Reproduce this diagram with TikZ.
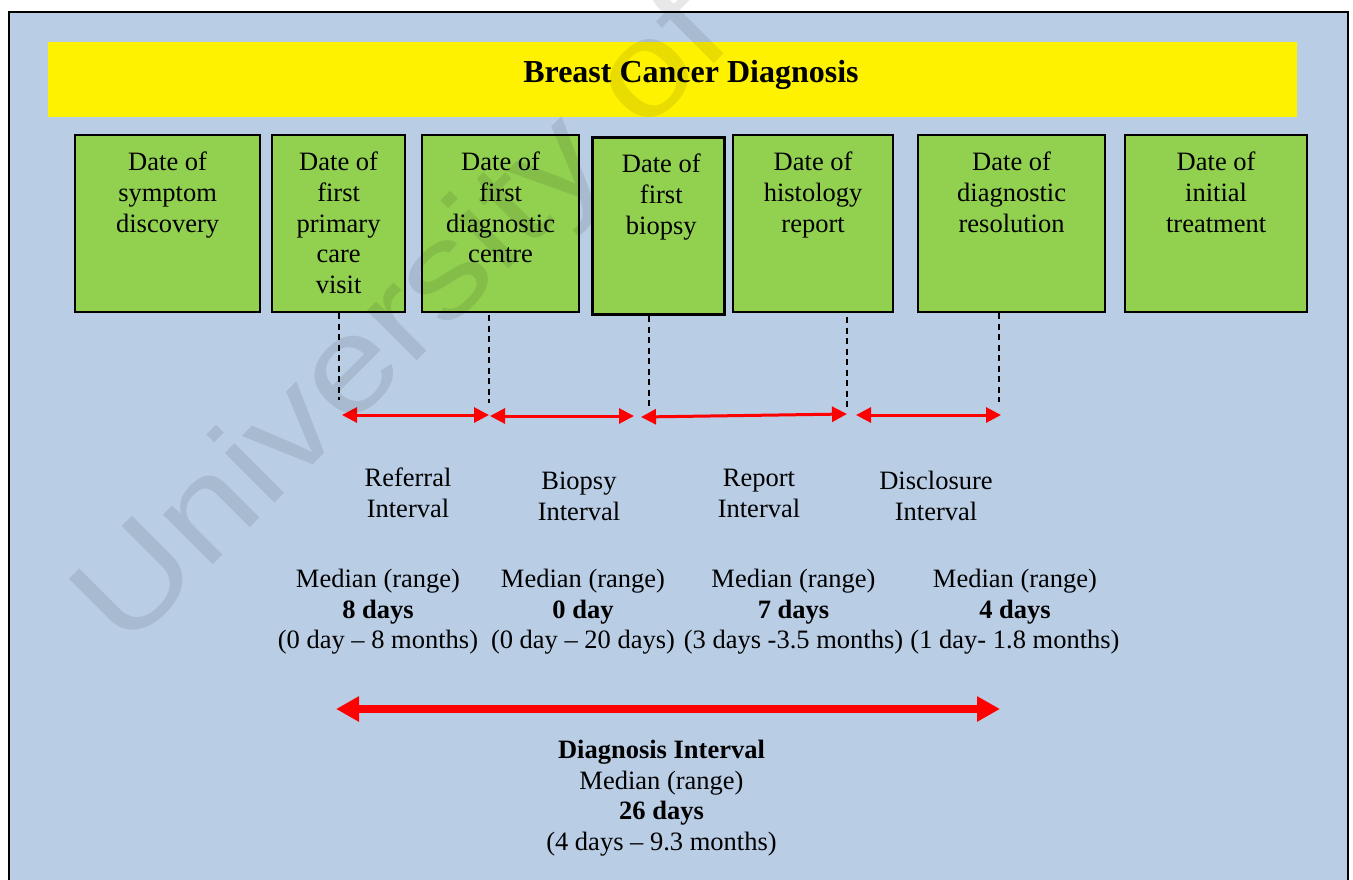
\documentclass[tikz,border=0pt]{standalone}
\usepackage{fontspec}
\setmainfont{Liberation Serif}
\newfontfamily\wmfont{Liberation Sans}
\usetikzlibrary{arrows.meta,calc}
\definecolor{panelblue}{HTML}{B9CDE5}
\definecolor{datagreen}{HTML}{92D050}
\begin{document}
\begin{tikzpicture}[x=1pt,y=-1pt,
  txt/.style={font=\fontsize{26.5}{30.7}\selectfont, align=center, inner sep=0pt, anchor=north},
  datebox/.style={draw=black, line width=2.2pt, fill=datagreen, anchor=north west, inner sep=0pt, minimum height=177pt},
  guide/.style={black, line width=1.6pt, dash pattern=on 6pt off 4.5pt},
  gap/.style={red, line width=3pt, arrows={Triangle[length=15pt,width=15pt]-Triangle[length=15pt,width=15pt]}},
  span/.style={red, line width=7.5pt, arrows={Triangle[length=23pt,width=24pt]-Triangle[length=23pt,width=24pt]}}
]
\clip (0,0) rectangle (1353,879);
\fill[white] (0,0) rectangle (1353,879);
% panel and title band
\draw[fill=panelblue, line width=2.5pt] (9,12) rectangle (1348,900);
\fill[yellow] (48,42) rectangle (1297,117);
\node[font=\fontsize{32}{38}\selectfont\bfseries, anchor=base, inner sep=0pt] (title) at (691,82) {Breast Cancer Diagnosis};

% date boxes
\node[datebox, minimum width=185pt] (b1) at (74,134) {};
\node[datebox, minimum width=133pt] (b2) at (271,134) {};
\node[datebox, minimum width=157pt] (b3) at (421,134) {};
\node[datebox, minimum width=132pt, line width=2.6pt] (b4) at (591,136) {};
\node[datebox, minimum width=160pt] (b5) at (732,134) {};
\node[datebox, minimum width=187pt] (b6) at (917,134) {};
\node[datebox, minimum width=182pt] (b7) at (1124,134) {};

\node[txt] (t1) at ($(b1.north)+(0,18)$) {Date of\\symptom\\discovery};
\node[txt] (t2) at ($(b2.north)+(0,18)$) {Date of\\first\\primary\\care\\visit};
\node[txt] (t3) at ($(b3.north)+(0,18)$) {Date of\\first\\diagnostic\\centre};
\node[txt] (t4) at ($(b4.north)+(3,18)$) {Date of\\first\\biopsy};
\node[txt] (t5) at ($(b5.north)+(0,18)$) {Date of\\histology\\report};
\node[txt] (t6) at ($(b6.north)+(0,18)$) {Date of\\diagnostic\\resolution};
\node[txt] (t7) at ($(b7.north)+(0,18)$) {Date of\\initial\\treatment};

% dashed guides below the boxes
\coordinate (g1a) at (339,313);  \coordinate (g1b) at (339,400);
\coordinate (g2a) at (489,315);  \coordinate (g2b) at (489,403);
\coordinate (g3a) at (649,316);  \coordinate (g3b) at (649,407);
\coordinate (g4a) at (847,317);  \coordinate (g4b) at (847,407);
\coordinate (g5a) at (999,313);  \coordinate (g5b) at (999,402);
\foreach \g in {1,...,5} \draw[guide] (g\g a) -- (g\g b);

% interval arrows
\coordinate (a1l) at (342,415); \coordinate (a1r) at (489,415);
\coordinate (a2l) at (490,416); \coordinate (a2r) at (634,416);
\coordinate (a3l) at (641,417); \coordinate (a3r) at (847,414);
\coordinate (a4l) at (856,415); \coordinate (a4r) at (1001,415);
\foreach \a in {1,...,4} \draw[gap] (a\a l) -- (a\a r);

% interval names
\node[txt] (l1) at (408,468) {Referral\\Interval};
\node[txt] (l2) at (579,472) {Biopsy\\Interval};
\node[txt] (l3) at (759,469) {Report\\Interval};
\node[txt] (l4) at (936,471) {Disclosure\\Interval};

% interval statistics
\node[txt] (m1) at (378,569) {Median (range)\\\textbf{8 days}\\(0 day – 8 months)};
\node[txt] (m2) at (583,569) {Median (range)\\\textbf{0 day}\\(0 day – 20 days)};
\node[txt] (m3) at (793.5,569) {Median (range)\\\textbf{7 days}\\(3 days -3.5 months)};
\node[txt] (m4) at (1015,569) {Median (range)\\\textbf{4 days}\\(1 day- 1.8 months)};

% overall diagnosis interval
\coordinate (dl) at (336,709); \coordinate (dr) at (1000,709);
\draw[span] (dl) -- (dr);
\node[txt] (dx) at (661.5,740) {\textbf{Diagnosis Interval}\\Median (range)\\\textbf{26 days}\\(4 days – 9.3 months)};

% watermark
\node[font=\wmfont\fontsize{133}{136}\selectfont, text=black, opacity=0.09, rotate=45, xscale=1.18, anchor=base west, inner sep=0pt] (wm) at (125.2,652.8) {University of};
\end{tikzpicture}
\end{document}
